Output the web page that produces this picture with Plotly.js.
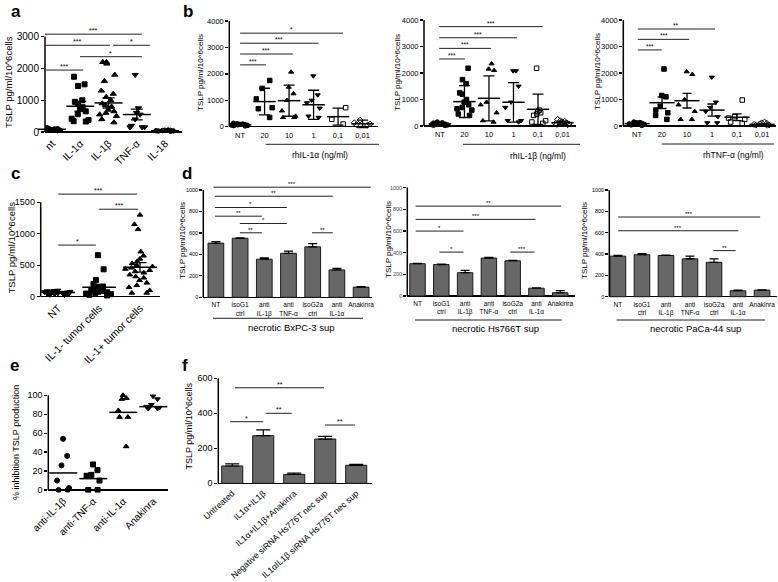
<!DOCTYPE html>
<html><head><meta charset="utf-8">
<script src="https://cdn.plot.ly/plotly-3.0.1.min.js"></script>
<style>html,body{margin:0;padding:0;background:#fff}#chart{width:778px;height:582px}</style>
</head><body><div id="chart"></div>
<script>
// ---------------- DATA ----------------
// Panel a
const aCats = ['nt','IL-1α','IL-1β','TNF-α','IL-18'];
const aNt   = [130,115,105,100,95,90,85,80,75,70,65,60,55,50,45];
const aIL1a = [1740,1500,1450,1000,950,880,780,720,650,560,420,380,340,330];
const aIL1b = [2200,2200,2150,1800,1600,1300,1200,1100,1000,900,850,800,700,650,600,550,500,400,300];
const aTNF  = [1800,750,600,550,400,200,150,150,150];
const aIL18 = [60,55,50,45,40,35,30,25];
const aMean = [85,810,915,550,40];
const aSem  = [8,150,160,170,5];
const aSigFrom = [-0.25,-0.25,2.16,0.99,-0.25];
const aSigTo   = [3.18,2.05,3.46,3.18,1.1];
const aSigY    = [3080,2730,2730,2370,1950];
const aSigTxt  = ['***','***','*','*','***'];

// Panel b
const bCats = ['NT','20','10','1','0,1','0,01'];
const b1NT  = [130,110,100,90,80,70,60,50,40,30];
const b1C20 = [1750,1450,1050,720,680,350];
const b1C10 = [2070,1500,1250,1000,600,400,350,350];
const b1C1  = [1920,1200,1000,900,700,400,350];
const b1C01 = [720,280,100];
const b1C001= [250,150,100,80,60];
const b1Mean= [75,950,985,830,380,110];
const b1Err = [30,505,590,550,320,140];
const b1SigFrom=[0,0,0,0], b1SigTo=[4.2,3.2,2.15,1.06], b1SigY=[3540,3160,2750,2340], b1SigTxt=['*','***','***','***'];

const b2NT  = [150,120,110,100,90,80,70,60,50,40,30,20];
const b2C20 = [2180,1750,1600,1250,1200,1000,900,800,700,650,600,450,400];
const b2C10 = [2350,2150,2100,900,800,500,200,150];
const b2C1  = [2080,2080,1500,900,700,200,200,150];
const b2C01 = [2180,600,550,500,450,400,200,150,100];
const b2C001= [250,200,180,150,120,100,90,80,60,50];
const b2Mean= [80,920,1045,895,630,125];
const b2Err = [40,600,850,745,570,60];
const b2SigFrom=[-0.03,-0.03,-0.03,-0.03], b2SigTo=[4.19,3.14,2.08,1.02], b2SigY=[3750,3330,2930,2530], b2SigTxt=['***','***','***','***'];

const b3NT  = [150,130,120,100,90,80,60,40,20];
const b3C20 = [2150,1150,1100,750,600,500,400,250];
const b3C10 = [2050,1950,1000,800,550,250,250];
const b3C1  = [1840,900,700,550,350,120,120];
const b3C01 = [980,350,300,250,150,100];
const b3C001= [150,120,100,80,60,40,30,20];
const b3Mean= [90,880,955,600,330,60];
const b3Err = [15,220,275,230,130,15];
const b3SigFrom=[0.03,0.03,0.03], b3SigTo=[3.12,2.09,0.99], b3SigY=[3660,3270,2870], b3SigTxt=['**','***','***'];

// Panel c
const cCats = ['NT','IL-1- tumor cells','IL-1+ tumor cells'];
const cNT  = [100,95,90,85,80,80,75,70,70,65,60,60,55,50,50,45,40,35,30,25];
const cNeg = [660,435,265,200,160,140,120,110,100,90,80,70,60,50,40,30,20];
const cPos = [1300,1150,1070,715,650,600,560,530,500,480,460,440,420,400,380,350,320,300,260,220,180,150,100,60,60];
const cMean = [65,150,466];
const cSem  = [5,45,75];
const cSigFrom=[0,1.0,0], cSigTo=[1.93,1.95,0.92], cSigY=[1630,1390,820], cSigTxt=['***','***','*'];

// Panel d
const dCats = ['NT','isoG1<br>ctrl','anti<br>IL-1β','anti<br>TNF-α','isoG2a<br>ctrl','anti<br>IL-1α','Anakinra'];
const d1Vals = [505,550,355,410,470,255,95];
const d1Err  = [15,5,12,20,30,15,4];
const d2Vals = [298,290,215,350,325,72,30];
const d2Err  = [4,5,22,6,5,3,20];
const d3Vals = [380,393,386,355,322,56,62];
const d3Err  = [8,10,3,25,32,5,2];
const d1SigFrom=[-0.1,-0.04,-0.04,-0.04,0.99,0.99,3.97], d1SigTo=[6.4,4.83,2.93,1.9,2.93,1.9,4.83], d1SigY=[1026,942,837,756,688,601,601], d1SigTxt=['***','**','*','**','*','**','**'];
const d2SigFrom=[-0.08,-0.08,-0.08,0.92,3.9], d2SigTo=[6.04,4.96,1.93,1.93,4.92], d2SigY=[829,707,599,405,405], d2SigTxt=['**','***','*','*','***'];
const d3SigFrom=[0.01,0.01,3.97], d3SigTo=[5.92,5.01,4.9], d3SigY=[747,618,432], d3SigTxt=['***','***','**'];

// Panel e
const eCats = ['anti-IL-1β','anti-TNF-α','anti-IL-1α','Anakinra'];
const eIL1b = [54,36,26,10,2,0,0];
const eTNF  = [27,21,16,15,10,0,0];
const eIL1a = [100,97,96,84,77,77,46];
const eAna  = [99,96,90,88,87,86,86];
const eMean = [18,12,82,88];

// Panel f
const fCats = ['Untreated','IL1α+IL1β','IL1α+IL1β+Anakinra','Negative siRNA Hs776T nec sup','IL1αIL1β siRNA Hs776T nec sup'];
const fVals = [99,272,51,253,103];
const fErr  = [12,33,8,15,6];
const fSigFrom=[0.09,-0.07,1.08,2.99], fSigTo=[2.96,1.0,1.92,3.96], fSigY=[546,352,400,333], fSigTxt=['**','*','**','**'];

// ---------------- BUILD ----------------
const W=778, H=582;
const FONT='Liberation Sans, Arial, Helvetica, sans-serif';
const layout = {width:W,height:H,margin:{l:0,r:0,t:0,b:0},paper_bgcolor:'#fff',plot_bgcolor:'rgba(0,0,0,0)',
  showlegend:false,boxmode:'overlay',barmode:'overlay',font:{family:FONT,color:'#000'},shapes:[],annotations:[]};
const traces=[];

function panel(n,c){
  const s = n===1?'':String(n);
  const xid='x'+s, yid='y'+s;
  const ppu=(c.y0px-c.tickTopPx)/c.tickTop;
  const pad=2.5;
  layout['xaxis'+s]={domain:[c.left/W,c.right/W],anchor:yid,type:'category',categoryorder:'array',categoryarray:c.cats,
    range:c.xr,showline:false,showgrid:false,zeroline:false,ticks:'',tickangle:c.xAngle||0,
    tickfont:{size:c.xFont,family:FONT,color:'#000'},fixedrange:true,automargin:false};
  layout['yaxis'+s]={domain:[1-(c.y0px+pad)/H,1-c.topPx/H],anchor:xid,range:[-pad/ppu,(c.y0px-c.topPx)/ppu],
    tickmode:'array',tickvals:c.tickvals,ticks:'outside',ticklen:3,tickwidth:1.3,tickcolor:'#000',
    showline:false,showgrid:false,zeroline:true,zerolinecolor:'#000',zerolinewidth:1.5,
    tickfont:{size:c.yFont,family:FONT,color:c.yColor||'#000'},fixedrange:true,automargin:false};
  layout.shapes.push({type:'line',xref:xid+' domain',x0:0,x1:0,yref:yid,y0:0,y1:c.tickTop,line:{color:'#000',width:1.5}});
  return {xid,yid};
}
function dots(ax,cat,vals,symbol,size,width){
  traces.push({type:'box',xaxis:ax.xid,yaxis:ax.yid,x0:cat,name:cat,y:vals,boxpoints:'all',jitter:1,pointpos:0,width:width,
    fillcolor:'rgba(0,0,0,0)',line:{width:0,color:'rgba(0,0,0,0)'},
    marker:{symbol:symbol,size:size,color:'#000',line:{color:'#000',width:1}},hoverinfo:'skip'});
}
function means(ax,cats,m,err,size,cap){
  const t={type:'scatter',mode:'markers',xaxis:ax.xid,yaxis:ax.yid,x:cats,y:m,cliponaxis:false,hoverinfo:'skip',
    marker:{symbol:'line-ew',size:size,color:'#000',line:{color:'#000',width:1.5}}};
  if(err) t.error_y={type:'data',array:err,color:'#000',thickness:1.3,width:cap};
  traces.push(t);
}
function bars(ax,cats,vals,err,w,cap){
  traces.push({type:'bar',xaxis:ax.xid,yaxis:ax.yid,x:cats,y:vals,width:w,hoverinfo:'skip',
    marker:{color:'#676767',line:{color:'#1a1a1a',width:1}},
    error_y:{type:'data',symmetric:false,array:err,arrayminus:err.map(()=>0),color:'#000',thickness:1.2,width:cap}});
}
function sigs(ax,from,to,ys,txts,fs){
  for(let i=0;i<ys.length;i++){
    layout.shapes.push({type:'line',xref:ax.xid,yref:ax.yid,x0:from[i],x1:to[i],y0:ys[i],y1:ys[i],line:{color:'#222',width:1}});
    layout.annotations.push({xref:ax.xid,yref:ax.yid,x:(from[i]+to[i])/2,y:ys[i],text:txts[i],showarrow:false,
      yanchor:'bottom',yshift:-2,font:{size:fs||7,color:'#000'}});
  }
}
function ptext(txt,x,y,size,opts){
  layout.annotations.push(Object.assign({xref:'paper',yref:'paper',x:x/W,y:1-y/H,text:txt,showarrow:false,
    xanchor:'center',yanchor:'middle',font:{size:size,color:'#000',family:FONT}},opts||{}));
}
function hline(x0,x1,y){
  layout.shapes.push({type:'line',xref:'paper',yref:'paper',x0:x0/W,x1:x1/W,y0:1-y/H,y1:1-y/H,line:{color:'#222',width:1}});
}
const ytitle='TSLP pg/ml/10^6cells';

// Panel a
const A=panel(1,{left:45,right:182,y0px:132,tickTop:3000,tickTopPx:36.7,topPx:26,xr:[-0.25,4.6],cats:aCats,
  tickvals:[0,1000,2000,3000],yFont:10,xFont:10.5,xAngle:-45});
dots(A,aCats[0],aNt,'circle',4.5,0.75);
dots(A,aCats[1],aIL1a,'square',5,0.75);
dots(A,aCats[2],aIL1b,'triangle-up',5.5,0.75);
dots(A,aCats[3],aTNF,'triangle-down',5.5,0.75);
dots(A,aCats[4],aIL18,'circle',4.5,0.75);
means(A,aCats,aMean,aSem,20,6);
sigs(A,aSigFrom,aSigTo,aSigY,aSigTxt,7);
ptext(ytitle,9,82,9.5,{textangle:-90});

// Panel b
const bSyms=['circle','square','triangle-up','triangle-down','square-open','diamond-open'];
const bcfg={y0px:126,tickTop:4000,tickTopPx:20,topPx:16,cats:bCats,tickvals:[0,1000,2000,3000,4000],yFont:7.5,xFont:7.5};
const B1=panel(2,Object.assign({},bcfg,{left:229.3,right:378,y0px:126.7,tickTopPx:21,xr:[-0.44,5.63]}));
[b1NT,b1C20,b1C10,b1C1,b1C01,b1C001].forEach((v,i)=>dots(B1,bCats[i],v,bSyms[i],4.5,0.8));
means(B1,bCats,b1Mean,b1Err,16,5.5);
sigs(B1,b1SigFrom,b1SigTo,b1SigY,b1SigTxt,6.5);
const B2=panel(3,Object.assign({},bcfg,{left:424,right:576,xr:[-0.65,5.55]}));
[b2NT,b2C20,b2C10,b2C1,b2C01,b2C001].forEach((v,i)=>dots(B2,bCats[i],v,bSyms[i],4.5,0.8));
means(B2,bCats,b2Mean,b2Err,16,5.5);
sigs(B2,b2SigFrom,b2SigTo,b2SigY,b2SigTxt,6.5);
const B3=panel(4,Object.assign({},bcfg,{left:623.3,right:776,xr:[-0.55,5.56]}));
[b3NT,b3C20,b3C10,b3C1,b3C01,b3C001].forEach((v,i)=>dots(B3,bCats[i],v,bSyms[i],4.5,0.8));
means(B3,bCats,b3Mean,b3Err,18,4.5);
sigs(B3,b3SigFrom,b3SigTo,b3SigY,b3SigTxt,6.5);
hline(265.7,379,144.3); ptext('rhIL-1α (ng/ml)',320,155,8.5);
hline(463,580,144.3);   ptext('rhIL-1β (ng/ml)',538,156,8.5);
hline(661.7,774,144);   ptext('rhTNF-α (ng/ml)',733,155,8.5);
ptext(ytitle,200,73,8,{textangle:-90});
ptext(ytitle,397,73,8,{textangle:-90});
ptext(ytitle,597,72,8,{textangle:-90});

// Panel c
const C=panel(5,{left:40.7,right:160,y0px:296.7,tickTop:1500,tickTopPx:202.3,topPx:188,xr:[-0.43,2.49],cats:cCats,
  tickvals:[0,500,1000,1500],yFont:9,xFont:10.5,xAngle:-45});
dots(C,cCats[0],cNT,'triangle-down',5,0.75);
dots(C,cCats[1],cNeg,'square',5,0.75);
dots(C,cCats[2],cPos,'triangle-up',5,0.75);
means(C,cCats,cMean,cSem,24,6.5);
sigs(C,cSigFrom,cSigTo,cSigY,cSigTxt,7);
ptext(ytitle,10.5,248,9.5,{textangle:-90});

// Panel d
const dcfg={tickTop:1000,topPx:181,cats:dCats,tickvals:[0,200,400,600,800,1000],yFont:5.5,xFont:6.5};
const D1=panel(6,Object.assign({},dcfg,{left:203.3,right:372,y0px:297.3,tickTopPx:190,xr:[-0.52,6.45]}));
bars(D1,dCats,d1Vals,d1Err,0.65,4.5);
sigs(D1,d1SigFrom,d1SigTo,d1SigY,d1SigTxt,6);
const D2=panel(7,Object.assign({},dcfg,{left:407.3,right:575,y0px:296,tickTopPx:187.6,xr:[-0.43,6.62],yColor:'#444'}));
bars(D2,dCats,d2Vals,d2Err,0.65,4.5);
sigs(D2,d2SigFrom,d2SigTo,d2SigY,d2SigTxt,6);
const D3=panel(8,Object.assign({},dcfg,{left:609.3,right:776.7,y0px:296.7,tickTopPx:190,xr:[-0.36,6.61]}));
bars(D3,dCats,d3Vals,d3Err,0.65,4.5);
sigs(D3,d3SigFrom,d3SigTo,d3SigY,d3SigTxt,6);
hline(213,363,318.3);   ptext('necrotic BxPC-3 sup',291.7,327,9.5);
hline(415,561.7,320);   ptext('necrotic Hs766T sup',495,328,9.5);
hline(616.7,765,320);   ptext('necrotic PaCa-44 sup',695,328,9.5);
ptext(ytitle,182,241,8,{textangle:-90});
ptext(ytitle,388,240,8,{textangle:-90});
ptext(ytitle,584,241,8,{textangle:-90});

// Panel e
const E=panel(9,{left:48.3,right:168.3,y0px:490,tickTop:100,tickTopPx:395.3,topPx:388,xr:[-0.5,3.5],cats:eCats,
  tickvals:[0,20,40,60,80,100],yFont:9,xFont:10,xAngle:-45});
dots(E,eCats[0],eIL1b,'circle',5,0.55);
dots(E,eCats[1],eTNF,'square',5,0.55);
dots(E,eCats[2],eIL1a,'triangle-up',5,0.55);
dots(E,eCats[3],eAna,'triangle-down',5,0.55);
means(E,eCats,eMean,null,20,0);
ptext('% inhibition TSLP production',16,443,9,{textangle:-90});

// Panel f
const F=panel(10,{left:218.3,right:371.7,y0px:483.3,tickTop:600,tickTopPx:378.3,topPx:372,xr:[-0.45,4.5],cats:fCats,
  tickvals:[0,200,400,600],yFont:9,xFont:8.7,xAngle:-42});
bars(F,fCats,fVals,fErr,0.68,7);
sigs(F,fSigFrom,fSigTo,fSigY,fSigTxt,7);
ptext(ytitle,188.5,426,9,{textangle:-90});

// Panel letters (top-anchored so nothing is cut at the page edge)
const LF=17;
[['a',16,16.7],['b',188,16.5],['c',16,178],['d',187,178],['e',14,370],['f',185,370]].forEach(l=>{
  const top=Math.max(0,l[2]-0.905*LF-1);
  ptext('<b>'+l[0]+'</b>',l[1],top,LF,{yanchor:'top'});
});

Plotly.newPlot('chart',traces,layout,{staticPlot:true,displayModeBar:false});
</script>
</body></html>
